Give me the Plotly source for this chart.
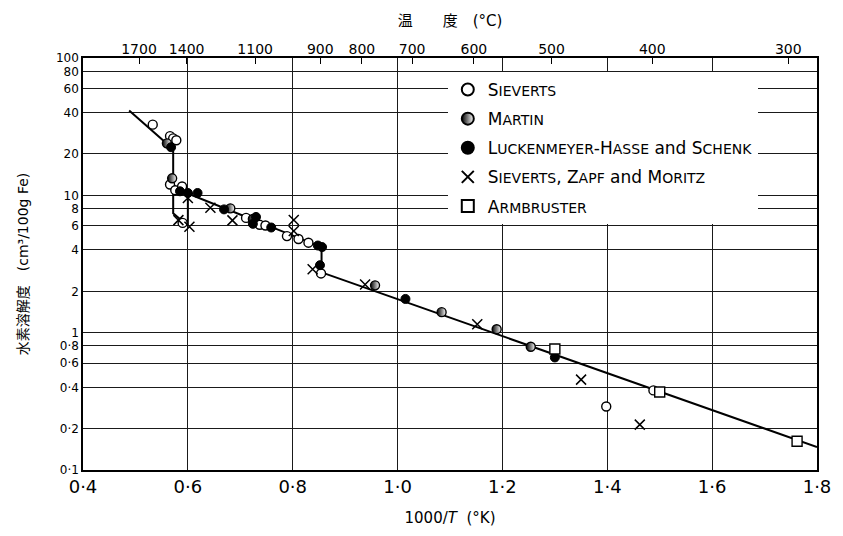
import plotly.graph_objects as go

# ---- data (x = 1000/T, y = cm3/100g Fe) ----
siev_x = [0.533, 0.566, 0.572, 0.578, 0.566, 0.576, 0.589, 0.590, 0.711, 0.737, 0.748, 0.789, 0.811, 0.830, 0.854, 1.398, 1.488]
siev_y = [32.7, 27.0, 26.0, 25.2, 12.0, 10.9, 11.6, 6.3, 6.85, 6.1, 6.03, 5.05, 4.81, 4.52, 2.7, 0.29, 0.38]

martin_x = [0.560, 0.570, 0.681, 0.724, 0.957, 1.084, 1.189, 1.254]
martin_y = [23.9, 13.3, 8.04, 6.73, 2.21, 1.41, 1.06, 0.79]

luck_x = [0.568, 0.585, 0.600, 0.6185, 0.669, 0.730, 0.724, 0.759, 0.848, 0.856, 0.852, 1.015, 1.30]
luck_y = [22.4, 10.7, 10.4, 10.4, 7.9, 6.96, 6.2, 5.83, 4.31, 4.2, 3.1, 1.76, 0.66]

szm_x = [0.600, 0.582, 0.603, 0.643, 0.685, 0.802, 0.802, 0.838, 0.938, 1.152, 1.35, 1.462]
szm_y = [9.55, 6.6, 5.9, 8.13, 6.57, 6.61, 5.5, 2.9, 2.24, 1.15, 0.455, 0.214]

arm_x = [1.30, 1.50, 1.762]
arm_y = [0.76, 0.37, 0.162]

curve_x = [0.488, 0.572, 0.572, 0.600, 0.600, 0.855, 0.855, 1.80]
curve_y = [41.5, 21.7, 7.4, 6.0, 10.3, 4.2, 2.75, 0.147]

names = ["Sieverts", "Martin", "Luckenmeyer-Hasse and Schenk", "Sieverts, Zapf and Moritz", "Armbruster"]

x_ticks = [0.4, 0.6, 0.8, 1.0, 1.2, 1.4, 1.6, 1.8]
x_ticktext = ["0·4", "0·6", "0·8", "1·0", "1·2", "1·4", "1·6", "1·8"]
y_ticks = [0.1, 0.2, 0.4, 0.6, 0.8, 1, 2, 4, 6, 8, 10, 20, 40, 60, 80, 100]
y_ticktext = ["0·1", "0·2", "0·4", "0·6", "0·8", "1", "2", "4", "6", "8", "10", "20", "40", "60", "80", "100"]
temps_c = [1700, 1400, 1100, 900, 800, 700, 600, 500, 400, 300]

FONT = "DejaVu Sans, Noto Sans CJK JP, sans-serif"


def small_caps(label, small=14):
    out = []
    for word in label.split(" "):
        if word == "and":
            out.append("and")
            continue
        w = ""
        buf = ""
        for ch in word:
            if ch.islower():
                buf += ch.upper()
            else:
                if buf:
                    w += f"<span style='font-size:{small}px'>{buf}</span>"
                    buf = ""
                w += ch
        if buf:
            w += f"<span style='font-size:{small}px'>{buf}</span>"
        out.append(w)
    return " ".join(out)


fig = go.Figure()

fig.add_trace(go.Scatter(x=curve_x, y=curve_y, mode="lines",
                         line=dict(color="black", width=2), showlegend=False,
                         hoverinfo="skip"))

styles = [
    (siev_x, siev_y, dict(symbol="circle", color="white", size=9, line=dict(color="black", width=1.4))),
    (martin_x, martin_y, dict(symbol="circle", color="black", size=9, line=dict(color="black", width=1.4),
                              gradient=dict(type="horizontal", color="white"))),
    (luck_x, luck_y, dict(symbol="circle", color="black", size=9, line=dict(color="black", width=1))),
    (szm_x, szm_y, dict(symbol="x-thin", size=10, line=dict(color="black", width=1.5))),
    (arm_x, arm_y, dict(symbol="square", color="white", size=10, line=dict(color="black", width=1.4))),
]
for i, ((xs, ys, mk), nm) in enumerate(zip(styles, names)):
    fig.add_trace(go.Scatter(x=xs, y=ys, mode="markers", marker=mk,
                             name=small_caps(nm), legendgroup=f"g{i}"))

# invisible trace to carry the top (temperature) axis
top_vals = [1000.0 / (t + 273.0) for t in temps_c]
fig.add_trace(go.Scatter(x=[0.4, 1.8], y=[1, 1], xaxis="x2", mode="markers",
                         marker=dict(opacity=0), showlegend=False, hoverinfo="skip"))

grid = dict(showgrid=True, gridcolor="#1a1a1a", gridwidth=1)

fig.update_layout(
    width=843, height=536,
    paper_bgcolor="white", plot_bgcolor="white",
    margin=dict(l=83, r=16, t=58, b=66),
    font=dict(family=FONT, color="black", size=14),
    xaxis=dict(range=[0.4, 1.8], tickvals=x_ticks, ticktext=x_ticktext,
               tickfont=dict(size=18), ticks="", showline=True, linecolor="black",
               linewidth=1.5, mirror=True, zeroline=False,
               title=dict(text="1000/<i>T</i>  (°K)", font=dict(size=15), standoff=16),
               **grid),
    xaxis2=dict(overlaying="x", side="top", range=[0.4, 1.8], tickvals=top_vals,
                ticktext=[str(t) for t in temps_c], ticks="inside", ticklen=6,
                tickcolor="black", tickfont=dict(size=14), showgrid=False, zeroline=False,
                title=dict(text="温　　度　(°C)", font=dict(size=15), standoff=10)),
    yaxis=dict(type="log", range=[-1, 2], tickvals=y_ticks, ticktext=y_ticktext,
               tickfont=dict(size=12), ticks="", showline=True, linecolor="black",
               linewidth=1.5, mirror=True, zeroline=False,
               title=dict(text="水素溶解度　(cm³/100g Fe)", font=dict(size=14), standoff=24),
               **grid),
    legend=dict(x=0.497, y=0.966, xanchor="left", yanchor="top",
                bgcolor="white", borderwidth=0, font=dict(size=17),
                tracegroupgap=4, traceorder="grouped", itemsizing="constant"),
    showlegend=True,
)

fig.write_html("out.html")
